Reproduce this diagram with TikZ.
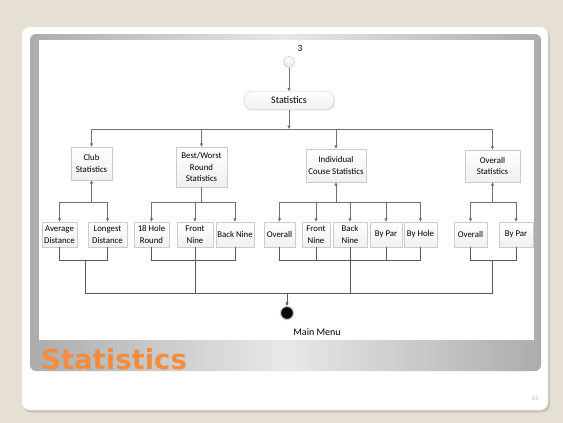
\documentclass[tikz,border=0pt]{standalone}
\usepackage{fontspec}
\setmainfont{Carlito}
\newfontfamily\titlefont{DejaVu Sans}
\usetikzlibrary{arrows.meta,shadows}
\definecolor{bgc}{RGB}{229,224,211}
\definecolor{ttl}{RGB}{242,140,62}
\definecolor{lnc}{RGB}{112,112,112}
\tikzset{
  box/.style={draw=gray!40, top color=white, bottom color=gray!12, inner sep=1pt, align=center,
    font=\fontsize{8.8}{11.5}\selectfont,
    drop shadow={opacity=0.25,shadow xshift=0.8pt,shadow yshift=-0.8pt}},
  bx/.style 2 args={minimum width=#1pt, minimum height=#2pt},
  tl/.style={draw=lnc, line width=0.9pt},
  bl/.style={draw=black!65, line width=0.6pt},
  arr/.style={-{Triangle[length=3.5pt,width=3pt]}},
}
\begin{document}
\begin{tikzpicture}[x=1pt,y=-1pt]
\useasboundingbox (0,0) rectangle (563,423);
\fill[bgc] (0,0) rectangle (563,423);
% card
\fill[black,opacity=0.12,rounded corners=8pt] (23.5,29) rectangle (550,412.5);
\fill[white,rounded corners=8pt] (22,27) rectangle (548,410);
% frame
\shade[rounded corners=6pt, left color=gray!65, right color=gray!65, middle color=gray!18] (30,34) rectangle (541,371);
\fill[white] (39,40) rectangle (534,340);
\node[anchor=base west, text=ttl, font=\titlefont\bfseries\fontsize{27.5}{28}\selectfont, inner sep=0] (title) at (41,369) {Statistics};
\node[text=gray!60, font=\fontsize{6.5}{7}\selectfont] (pg) at (535,398) {15};

% top
\node[font=\fontsize{9.5}{10}\selectfont] (lab3) at (300,48) {3};
\node[circle, draw=gray!50, top color=white, bottom color=gray!20, minimum size=11pt, inner sep=0] (start) at (289,62) {};
\node[box, rounded corners=8pt, bx={90}{18}, font=\fontsize{10}{12}\selectfont] (stat) at (289,100.5) {Statistics};

% level 1
\node[box, bx={41}{33}] (club) at (91.5,163.5) {Club\\Statistics};
\node[box, bx={51}{40}] (best) at (201.5,167) {Best/Worst\\Round\\Statistics};
\node[box, bx={60}{33}] (indiv) at (336,165.5) {Individual\\Couse Statistics};
\node[box, bx={55}{32}] (ovr) at (492.5,166) {Overall\\Statistics};

% level 2
\node[box, bx={35}{25}] (avg) at (59.5,234.5) {Average\\Distance};
\node[box, bx={39}{25}] (lng) at (107.5,234.5) {Longest\\Distance};
\node[box, bx={35}{25}] (h18) at (151.5,234.5) {18 Hole\\Round};
\node[box, bx={36}{25}] (fn1) at (195,234.5) {Front\\Nine};
\node[box, bx={36}{25}] (bn1) at (235,234.5) {Back Nine};
\node[box, bx={31}{25}] (io) at (279.5,234.5) {Overall};
\node[box, bx={28}{25}] (ifn) at (316,234.5) {Front\\Nine};
\node[box, bx={34}{25}] (ibn) at (350,234.5) {Back\\Nine};
\node[box, bx={32}{25}] (ibp) at (386,234.5) {By Par};
\node[box, bx={33}{25}] (ibh) at (420.5,234.5) {By Hole};
\node[box, bx={33}{25}] (oo) at (470.5,234.5) {Overall};
\node[box, bx={34}{25}] (obp) at (516,234.5) {By Par};

% end
\node[circle, fill=black, draw=gray!45, line width=1.2pt, minimum size=13pt, inner sep=0] (end) at (287,313) {};
\node[font=\fontsize{10}{12}\selectfont] (mm) at (317,332) {Main Menu};

% top connectors
\coordinate (b1) at (91.5,129);
\coordinate (b2) at (201.5,129);
\coordinate (b3) at (336,129);
\coordinate (b4) at (492.5,129);
\coordinate (bm) at (289,129);
\draw[tl,arr] (start) -- (stat);
\draw[tl,arr] (stat) -- (bm);
\draw[tl] (b1) -- (b4);
\draw[tl,arr] (b1) -- (club);
\draw[tl,arr] (b2) -- (best);
\draw[tl,arr] (b3) -- (indiv);
\draw[tl,arr] (b4) -- (ovr);

% level-2 bars
\coordinate (c1) at (91.5,202);
\coordinate (c2) at (201.5,202);
\coordinate (c3) at (336,202);
\coordinate (c4) at (492.5,202);
\draw[tl,arr] (c1) -- (club);
\draw[tl] (avg.north |- c1) -- (lng.north |- c1);
\foreach \n in {avg,lng} \draw[tl,arr] (\n.north |- c1) -- (\n);
\draw[tl] (best) -- (c2);
\draw[tl] (h18.north |- c2) -- (bn1.north |- c2);
\foreach \n in {h18,fn1,bn1} \draw[tl,arr] (\n.north |- c2) -- (\n);
\draw[tl,arr] (c3) -- (indiv);
\draw[tl] (io.north |- c3) -- (ibh.north |- c3);
\foreach \n in {io,ifn,ibn,ibp,ibh} \draw[tl,arr] (\n.north |- c3) -- (\n);
\draw[tl,arr] (c4) -- (ovr);
\draw[tl] (oo.north |- c4) -- (obp.north |- c4);
\foreach \n in {oo,obp} \draw[tl,arr] (\n.north |- c4) -- (\n);

% bottom
\coordinate (d1) at (85,260);
\coordinate (d4) at (492.5,260);
\coordinate (mL) at (85,293);
\coordinate (mR) at (492.5,293);
\coordinate (mE) at (287,293);
\draw[bl] (avg.south) -- (avg.south |- d1) -- (lng.south |- d1) -- (lng.south);
\draw[bl] (h18.south) -- (h18.south |- d1) -- (bn1.south |- d1) -- (bn1.south);
\draw[bl] (io.south) -- (io.south |- d1) -- (ibh.south |- d1) -- (ibh.south);
\foreach \n in {ifn,ibp} \draw[bl] (\n.south) -- (\n.south |- d1);
\draw[bl] (oo.south) -- (oo.south |- d1) -- (obp.south |- d1) -- (obp.south);
\draw[bl] (d1) -- (mL);
\draw[bl] (d4) -- (mR);
\draw[bl] (fn1.south) -- (fn1.south |- mL);
\draw[bl] (ibn.south) -- (ibn.south |- mL);
\draw[bl] (mL) -- (mR);
\draw[bl,arr] (mE) -- (end);
\end{tikzpicture}
\end{document}
